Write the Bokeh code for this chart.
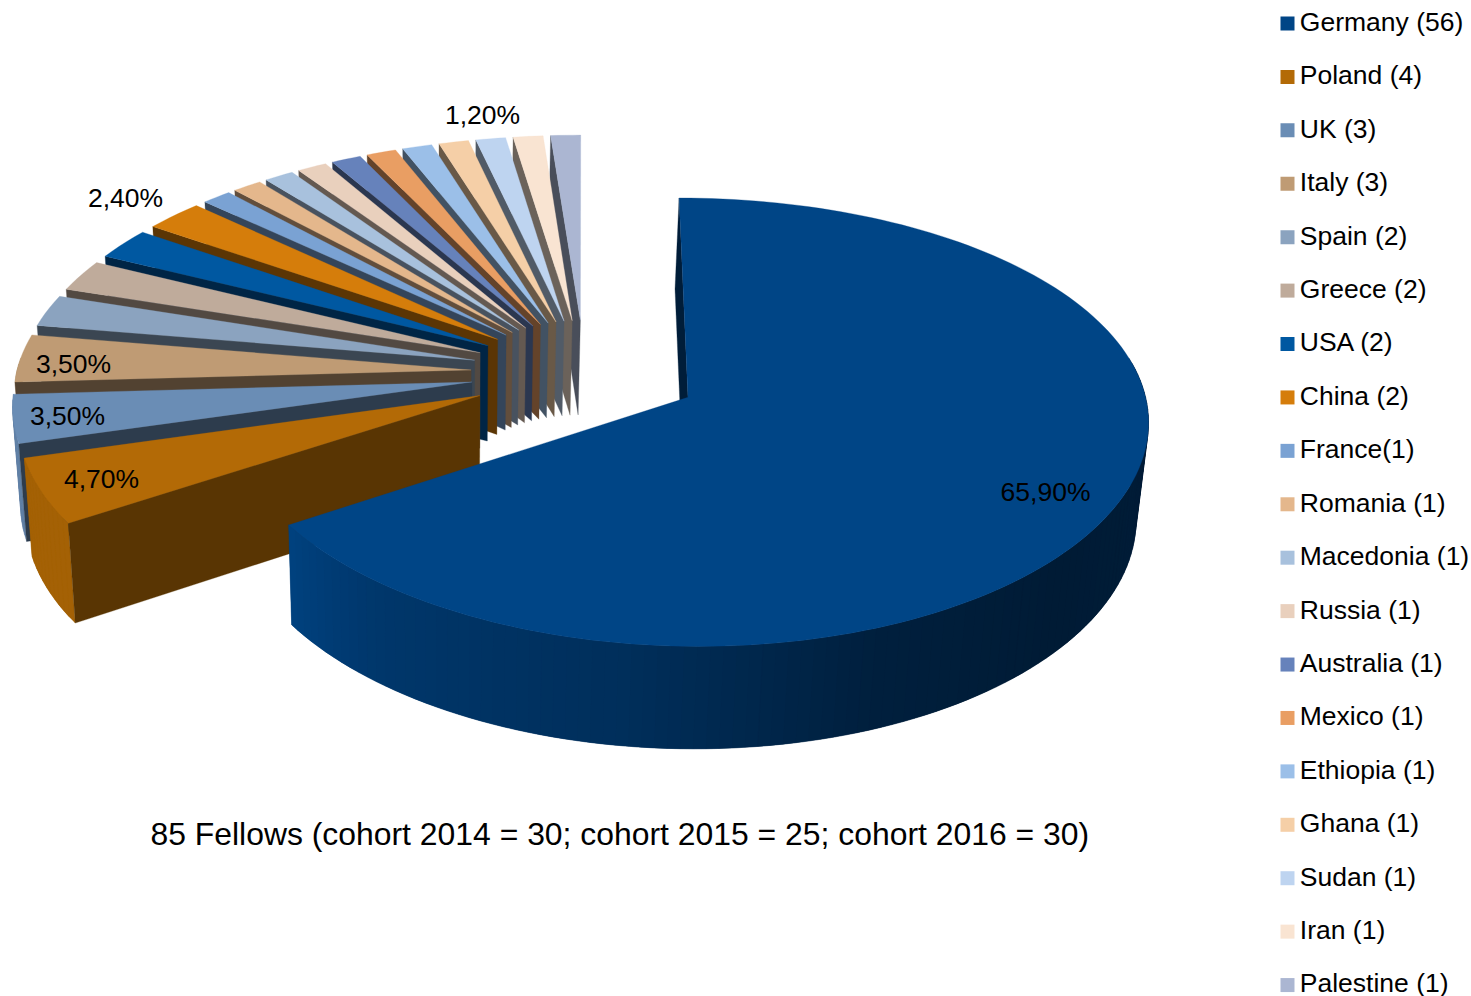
import math
from bokeh.embed import file_html
from bokeh.resources import INLINE
from bokeh.plotting import figure
from bokeh.core.properties import value

# Fellows per country of origin
countries = ["Germany (56)", "Poland (4)", "UK (3)", "Italy (3)", "Spain (2)", "Greece (2)", "USA (2)",
             "China (2)", "France(1)", "Romania (1)", "Macedonia (1)", "Russia (1)", "Australia (1)",
             "Mexico (1)", "Ethiopia (1)", "Ghana (1)", "Sudan (1)", "Iran (1)", "Palestine (1)"]
fellows = [56, 4, 3, 3, 2, 2, 2, 2, 1, 1, 1, 1, 1, 1, 1, 1, 1, 1, 1]
colors = ["#004586", "#B36A06", "#6A8DB5", "#BF9B74", "#8BA3BF", "#BFAB9B", "#0058A1", "#D57D0B", "#7AA2D3",
          "#E4B78C", "#A8C1DD", "#E9D0BD", "#6682BB", "#E99E63", "#9BBFE8", "#F5CFA7", "#BED4F0", "#F9E4D2",
          "#ABB6D2"]
percent_labels = ["65,90%", "4,70%", "3,50%", "3,50%", "2,40%", "1,20%"]
label_xy = [(1045, 491), (101, 478), (67, 415), (73, 363), (125, 197), (482, 114)]
caption = "85 Fellows (cohort 2014 = 30; cohort 2015 = 25; cohort 2016 = 30)"

# Perspective view of the pie: unit radius disc, Y towards the viewer
CX, CY, AX, AY = 584.0, 370.5, 454.6, 216.5
PERSP_X, PERSP_Y = 0.092, 0.11
DEPTH, VANISH_X, CONVERGE = 96.0, 453.0, 0.018
# The large slice is pulled out a little further than the rest and is a touch smaller
MAIN_RADIUS, MAIN_OFFSET, MAIN_SHIFT_X, MAIN_SHIFT_Y = 0.995, 0.26, -1.5, -1.0
REST_RADIUS, REST_OFFSET, REST_SHIFT_X, REST_SHIFT_Y = 1.0, 0.25, 0.0, 2.0


def project(x, y, lower=False, shift=(0.0, 0.0)):
    sx = CX + AX * x / (1.0 - PERSP_X * y) + shift[0]
    sy = CY + AY * y / (1.0 - PERSP_Y * y) + shift[1]
    if lower:
        sx += (VANISH_X - sx) * CONVERGE
        sy += DEPTH * (1.0 + 0.06 * y)
    return sx, sy


def shade(hex_color, factor):
    r, g, b = (int(hex_color[i:i + 2], 16) for i in (1, 3, 5))
    return "#%02x%02x%02x" % (int(r * factor), int(g * factor), int(b * factor))


def main_wall_factor(a):
    # Side wall of the large slice gets lighter towards its left end
    stops = [(0, 0.42), (95, 0.42), (132, 0.40), (159, 0.46), (188, 0.68), (220, 0.80), (237.3, 0.95)]
    for (a0, f0), (a1, f1) in zip(stops, stops[1:]):
        if a <= a1:
            return f0 + (f1 - f0) * (a - a0) / (a1 - a0)
    return stops[-1][1]


p = figure(width=1471, height=996, x_range=(0, 1471), y_range=(996, 0), output_backend="svg",
           toolbar_location=None, min_border=0, outline_line_color=None, background_fill_color="white")
p.axis.visible = False
p.grid.visible = False

total = sum(fellows)
starts, angle = [], 0.0
for n in fellows:
    starts.append(angle)
    angle += 360.0 * n / total


def add_poly(points, color):
    p.patch([q[0] for q in points], [q[1] for q in points], fill_color=color, line_color=color, line_width=0.3)


# Paint from the back of the pie to the front
for i in reversed(range(len(fellows))):
    a0 = starts[i]
    a1 = a0 + 360.0 * fellows[i] / total
    mid = math.radians((a0 + a1) / 2)
    if i == 0:
        radius, offset, shift = MAIN_RADIUS, MAIN_OFFSET, (MAIN_SHIFT_X, MAIN_SHIFT_Y)
    else:
        radius, offset, shift = REST_RADIUS, REST_OFFSET, (REST_SHIFT_X, REST_SHIFT_Y)
    ox, oy = offset * math.sin(mid), -offset * math.cos(mid)
    wall = shade(colors[i], 0.5 if i == 1 else 0.43)

    n_steps = max(4, int((a1 - a0) / 1.5))
    angles = [a0 + (a1 - a0) * k / n_steps for k in range(n_steps + 1)]
    rim = [(ox + radius * math.sin(math.radians(a)), oy - radius * math.cos(math.radians(a))) for a in angles]

    # Outer curved wall on the part that faces the viewer; each strip runs under
    # its neighbour so that the colour steps leave no hairline between them
    for k in range(n_steps):
        a_mid = (angles[k] + angles[k + 1]) / 2
        if not 80 < a_mid < 272:
            continue
        factor = main_wall_factor(a_mid) if i == 0 else 0.92
        far = min(k + 2, n_steps)
        arc = rim[k:far + 1]
        add_poly([project(*q, shift=shift) for q in arc] + [project(*q, True, shift) for q in reversed(arc)],
                 shade(colors[i], factor))

    # Radial wall on the leading edge of the slice
    add_poly([project(*rim[0], shift=shift), project(ox, oy, shift=shift),
              project(ox, oy, True, shift), project(*rim[0], True, shift)], wall)

    # Top face
    add_poly([project(ox, oy, shift=shift)] + [project(*q, shift=shift) for q in rim], colors[i])

p.text([q[0] for q in label_xy], [q[1] for q in label_xy], text=percent_labels, text_font=value("Liberation Sans"),
       text_font_size="26.5px", text_align="center", text_baseline="middle", text_color="#000000")

p.text([619.3], [833], text=[caption], text_font=value("Liberation Sans"), text_font_size="31.9px",
       text_align="center", text_baseline="middle", text_color="#000000")

# Legend column
legend_y = [22 + 53.42 * i for i in range(len(countries))]
p.rect([1287] * len(countries), [y + 1 for y in legend_y], width=14, height=14, fill_color=colors, line_color=None)
p.text([1299.3] * len(countries), [y - 0.6 for y in legend_y], text=countries, text_font=value("Liberation Sans"),
       text_font_size="26.5px", text_align="left", text_baseline="middle", text_color="#000000")

open("out.html", "w").write(file_html(p, INLINE))
